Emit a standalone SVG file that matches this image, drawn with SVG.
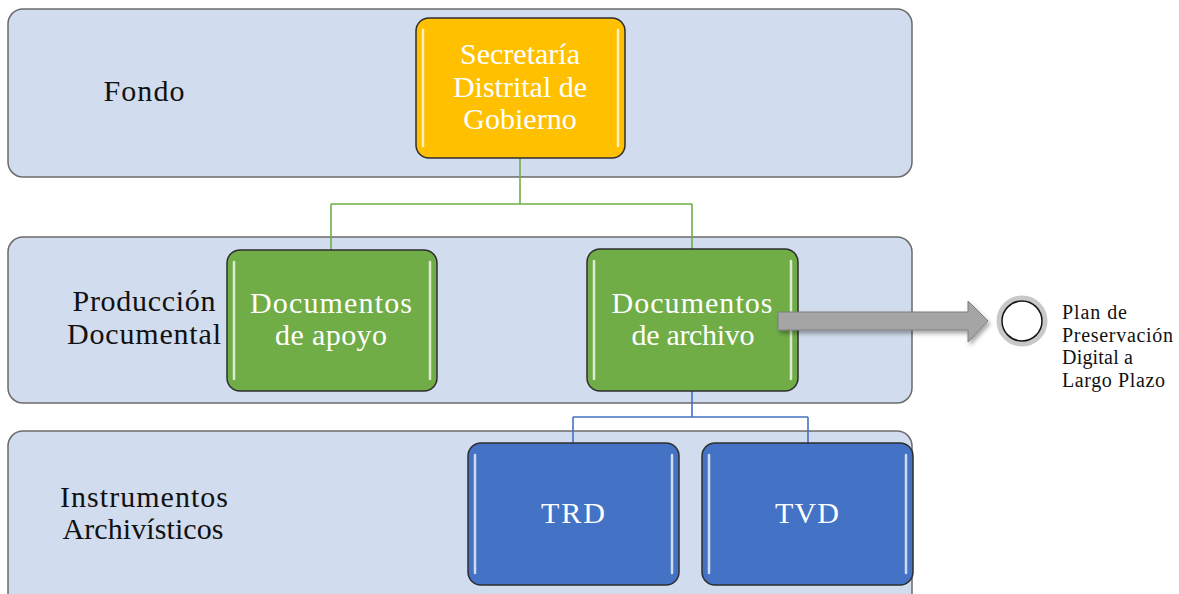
<svg xmlns="http://www.w3.org/2000/svg" width="1179" height="594" viewBox="0 0 1179 594">
<style>
.band{fill:#d1dcee;stroke:#6b6b6b;stroke-width:1.5}
.lbl{font-family:"Liberation Serif",serif;font-size:30px;fill:#111;text-anchor:middle}
.node{stroke:#2e2e2e;stroke-width:1.5}
.nt{font-family:"Liberation Serif",serif;font-size:30px;fill:#fff;text-anchor:middle}
.hl{stroke:#ffffff;stroke-opacity:0.75;stroke-width:2.5;stroke-linecap:round;fill:none}
.cg{fill:none;stroke:#70ad47;stroke-width:1.6}
.cb{fill:none;stroke:#4472c4;stroke-width:1.6}
.side{font-family:"Liberation Serif",serif;font-size:20px;fill:#111}
</style>
<defs>
<filter id="sh" x="-10%" y="-30%" width="130%" height="170%">
<feDropShadow dx="2" dy="3" stdDeviation="2" flood-color="#000" flood-opacity="0.35"/>
</filter>
</defs>
<rect width="1179" height="594" fill="#ffffff"/>
<g id="band-fondo">
<rect class="band" x="8" y="9" width="904" height="168" rx="15"/>
<text class="lbl" x="144" y="101" textLength="81" lengthAdjust="spacing">Fondo</text>
</g>
<g id="band-produccion">
<rect class="band" x="8" y="237" width="904" height="166" rx="15"/>
<text class="lbl" x="144" y="311" textLength="143" lengthAdjust="spacing">Producción</text>
<text class="lbl" x="144" y="344" textLength="154" lengthAdjust="spacing">Documental</text>
</g>
<g id="band-instrumentos">
<rect class="band" x="8" y="431" width="904" height="190" rx="15"/>
<text class="lbl" x="144" y="507" textLength="168" lengthAdjust="spacing">Instrumentos</text>
<text class="lbl" x="143" y="539" textLength="161" lengthAdjust="spacing">Archivísticos</text>
</g>
<g id="connectors">
<path class="cg" d="M520 158 V204 M331 204 H692 M331 204 V250 M692 204 V249"/>
<path class="cb" d="M692 391 V417 M573 417 H808 M573 417 V443 M808 417 V443"/>
</g>
<g id="node-secretaria">
<rect class="node" x="416" y="18" width="209" height="140" rx="13" fill="#ffc000"/>
<path class="hl" d="M423 30 V146 M618 30 V146"/>
<text class="nt" x="520" y="64">Secretaría</text>
<text class="nt" x="520" y="97">Distrital de</text>
<text class="nt" x="520" y="129">Gobierno</text>
</g>
<g id="node-apoyo">
<rect class="node" x="227" y="250" width="210" height="141" rx="13" fill="#70ad47"/>
<path class="hl" d="M234 262 V379 M430 262 V379"/>
<text class="nt" x="331" y="313" textLength="162" lengthAdjust="spacing">Documentos</text>
<text class="nt" x="331" y="345" textLength="112" lengthAdjust="spacing">de apoyo</text>
</g>
<g id="node-archivo">
<rect class="node" x="587" y="249" width="211" height="142" rx="13" fill="#70ad47"/>
<path class="hl" d="M594 261 V379 M791 261 V379"/>
<text class="nt" x="692" y="313" textLength="161" lengthAdjust="spacing">Documentos</text>
<text class="nt" x="693" y="345" textLength="123" lengthAdjust="spacing">de archivo</text>
</g>
<g id="node-trd">
<rect class="node" x="468" y="443" width="211" height="142" rx="13" fill="#4472c4"/>
<path class="hl" d="M475 455 V573 M672 455 V573"/>
<text class="nt" x="573" y="523" textLength="64" lengthAdjust="spacing">TRD</text>
</g>
<g id="node-tvd">
<rect class="node" x="702" y="443" width="211" height="142" rx="13" fill="#4472c4"/>
<path class="hl" d="M709 455 V573 M906 455 V573"/>
<text class="nt" x="807" y="523" textLength="64" lengthAdjust="spacing">TVD</text>
</g>
<g id="arrow">
<path d="M778 312 H968 V301 L988 321 L968 342 V330 H778 Z" fill="#a5a5a5" stroke="#7f7f7f" stroke-width="1" filter="url(#sh)"/>
</g>
<g id="node-plan">
<circle cx="1022" cy="321" r="23" fill="#ffffff" stroke="#c8c8c8" stroke-width="5"/>
<circle cx="1022" cy="321" r="20" fill="#ffffff" stroke="#111" stroke-width="1.5"/>
<text class="side" x="1062" y="319" textLength="65" lengthAdjust="spacing">Plan de</text>
<text class="side" x="1062" y="342" textLength="111" lengthAdjust="spacing">Preservación</text>
<text class="side" x="1062" y="364" textLength="71" lengthAdjust="spacing">Digital a</text>
<text class="side" x="1062" y="387" textLength="103" lengthAdjust="spacing">Largo Plazo</text>
</g>
</svg>
